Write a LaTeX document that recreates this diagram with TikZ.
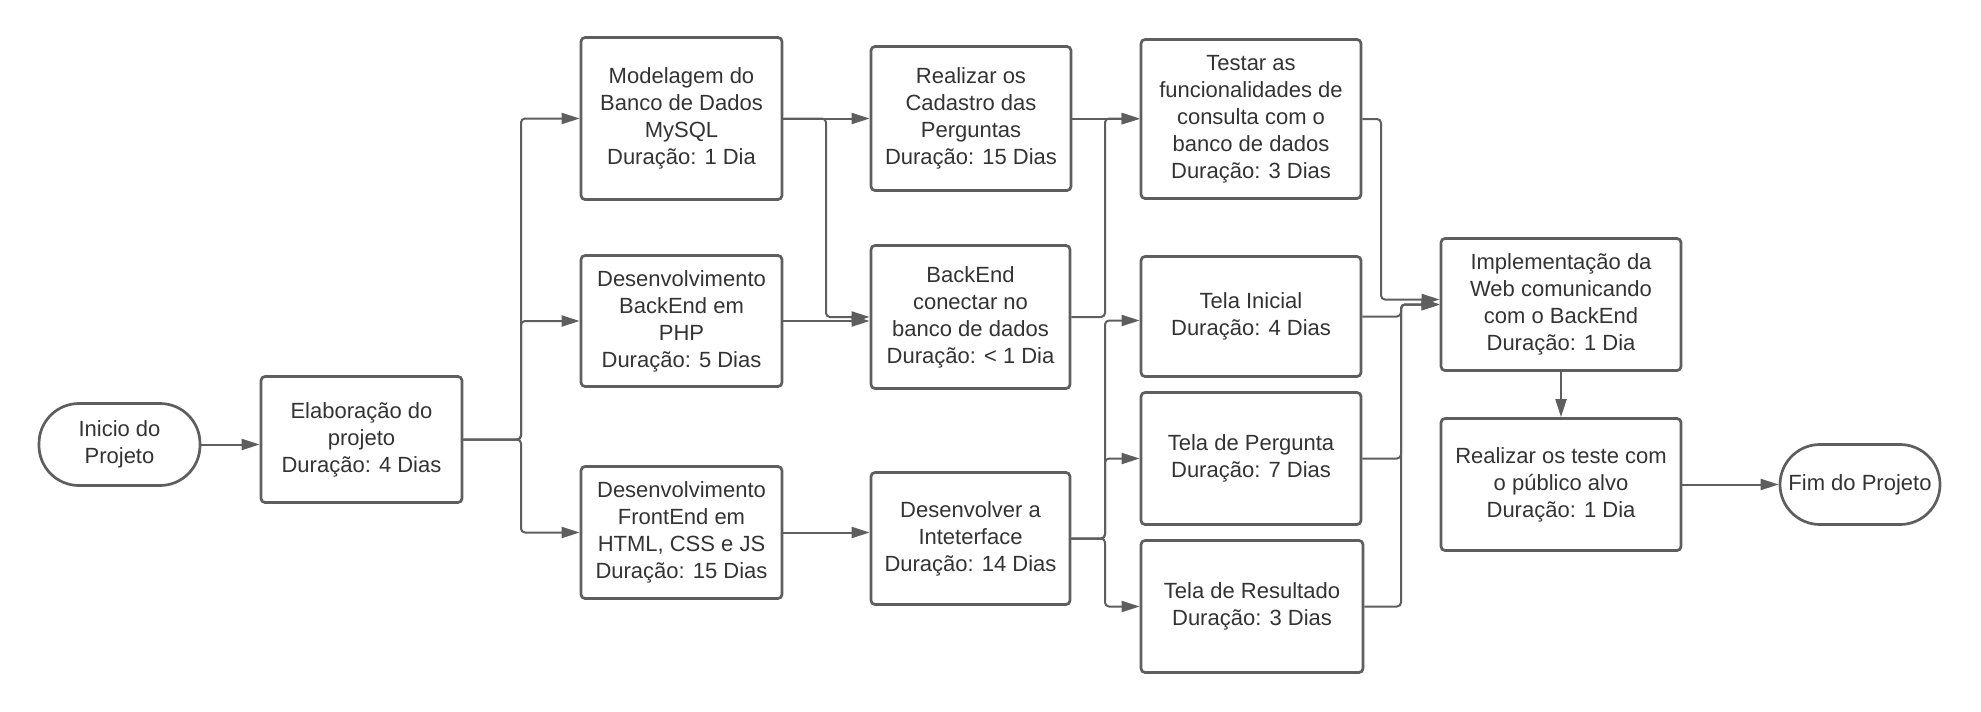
\documentclass[tikz,border=0pt]{standalone}
\usepackage{fontspec}
\setmainfont{Liberation Sans}
\usepackage{tikz}
\usetikzlibrary{calc}
\usetikzlibrary{arrows.meta}
\definecolor{linegray}{RGB}{94,94,94}
\definecolor{textgray}{RGB}{51,51,51}

\begin{document}
\begin{tikzpicture}[x=0.5pt,y=-0.5pt,>={Triangle[length=9pt,width=5.5pt]},
task/.style 2 args={draw=linegray,line width=1.35pt,rounded corners=2pt,align=center,text=textgray,font=\fontsize{11}{13.5}\selectfont,inner sep=2pt,minimum width=#1,minimum height=#2},
terminal/.style 2 args={task={#1}{#2},rounded corners=20pt},
flow/.style={draw=linegray,line width=1pt,->,rounded corners=2pt}]

\useasboundingbox (0,2.5) rectangle (1981,714.5);

\node[terminal={80.5pt}{41pt}] (inicio) at (119.5,447) {Inicio do\\Projeto};
\node[task={100.5pt}{63pt}] (elab) at (361.5,442) {Elaboração do\\projeto\\Duração: 4 Dias};

\node[task={100.5pt}{81pt}] (model) at (681.5,121) {Modelagem do\\Banco de Dados\\MySQL\\Duração: 1 Dia};
\node[task={100.5pt}{65.5pt}] (backphp) at (681.5,323.5) {Desenvolvimento\\BackEnd em\\PHP\\Duração: 5 Dias};
\node[task={100.5pt}{66pt}] (front) at (681.5,535) {Desenvolvimento\\FrontEnd em\\HTML, CSS e JS\\Duração: 15 Dias};

\node[task={100pt}{72pt}] (cadastro) at (971,121) {Realizar os\\Cadastro das\\Perguntas\\Duração: 15 Dias};
\node[task={99.5pt}{71.5pt}] (conectar) at (970.5,319.5) {BackEnd\\conectar no\\banco de dados\\Duração: < 1 Dia};
\node[task={99.5pt}{66pt}] (interface) at (970.5,541) {Desenvolver a\\Inteterface\\Duração: 14 Dias};

\node[task={110pt}{79.5pt}] (testar) at (1251,121.5) {Testar as\\funcionalidades de\\consulta com o\\banco de dados\\Duração: 3 Dias};
\node[task={110pt}{60pt}] (inicial) at (1251,319) {Tela Inicial\\Duração: 4 Dias};
\node[task={110pt}{66pt}] (pergunta) at (1251,461) {Tela de Pergunta\\Duração: 7 Dias};
\node[task={111pt}{66pt}] (resultado) at (1252,609) {Tela de Resultado\\Duração: 3 Dias};

\node[task={120pt}{66pt}] (impl) at (1561,307) {Implementação da\\Web comunicando\\com o BackEnd\\Duração: 1 Dia};
\node[task={120pt}{66pt}] (teste) at (1561,487) {Realizar os teste com\\o público alvo\\Duração: 1 Dia};
\node[terminal={80pt}{40pt}] (fim) at (1860,487) {Fim do Projeto};

\coordinate (s1) at (521,442);
\coordinate (s2) at (826,121);
\coordinate (s3) at (1105,121);
\coordinate (s4) at (1105,541);
\coordinate (j1) at (1381,302);
\coordinate (j2) at (1401,307);

\draw[flow] (inicio.east) -- (inicio.east -| elab.west);
\draw[flow] (elab.east) -- (s1) |- (model.west);
\draw[flow] (elab.east) -- (s1) |- (backphp.west);
\draw[flow] (elab.east) -- (s1) |- (front.west);

\draw[flow] (model.east) -- (cadastro.west);
\draw[flow] (model.east) -- (s2) |- (conectar.west);
\draw[flow] (backphp.east) -- (backphp.east -| conectar.west);
\draw[flow] (front.east) -- (front.east -| interface.west);

\draw[flow] (cadastro.east) -- (cadastro.east -| testar.west);
\draw[flow] (conectar.east) -| (s3) -- (testar.west);
\draw[flow] (interface.east) -- (s4) |- ($(inicial.west)+(0,4)$);
\draw[flow] (interface.east) -- (s4) |- (pergunta.west);
\draw[flow] (interface.east) -- (s4) |- (resultado.west);

\draw[flow] (testar.east) -| (j1) -- (j1 -| impl.west);
\draw[flow] (inicial.east) -| (j2) -- (j2 -| impl.west);
\draw[flow] (pergunta.east) -| (j2) -- (j2 -| impl.west);
\draw[flow] (resultado.east) -| (j2) -- (j2 -| impl.west);

\draw[flow] (impl.south) -- (teste.north);
\draw[flow] (teste.east) -- (fim.west);
\end{tikzpicture}
\end{document}
